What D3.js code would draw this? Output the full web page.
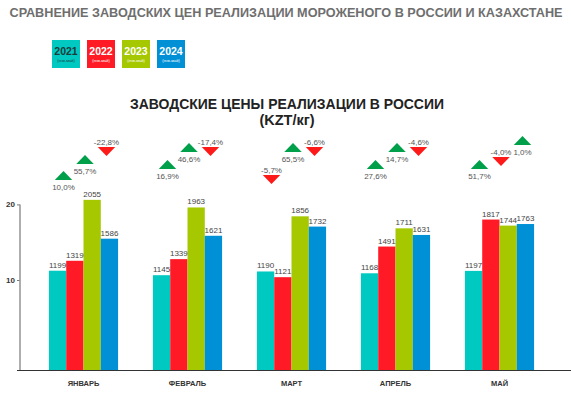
<!DOCTYPE html>
<html><head><meta charset="utf-8">
<script src="https://cdn.jsdelivr.net/npm/d3@7"></script>
<style>
html,body{margin:0;padding:0;background:#fff;}
svg{display:block;font-family:"Liberation Sans",Arial,sans-serif;}
</style></head>
<body><svg id="c" width="571" height="398"></svg>
<script>
const months = ["ЯНВАРЬ","ФЕВРАЛЬ","МАРТ","АПРЕЛЬ","МАЙ"];
const years = ["2021","2022","2023","2024"];
const v2021 = [1199,1145,1190,1168,1197];
const v2022 = [1319,1339,1121,1491,1817];
const v2023 = [2055,1963,1856,1711,1744];
const v2024 = [1586,1621,1732,1631,1763];
const changePct = [[10.0,55.7,-22.8],[16.9,46.6,-17.4],[-5.7,65.5,-6.6],[27.6,14.7,-4.6],[51.7,-4.0,1.0]];
const yTickValues = [1087,2000];
const yTickLabels = ["10","20"];
const legendSub = "(янв-май)";

// layout / style (not data)
const colors = ["#00c9c1","#ff1a26","#a6c800","#0090d6"];
const legendText = ["#1d3b3a","#ffffff","#ffffff","#ffffff"];
const markerOffsets = [-20,1.5,23];
const markerTop = [[171,155,147],[160,143,147],[175,143,147],[160,143,147],[160,157,136]];

const svg = d3.select("#c");
const series = [v2021,v2022,v2023,v2024];
const rows = months.map((m,i)=>({month:m, vals:years.map((y,k)=>({year:y,value:series[k][i]}))}));

const x = d3.scaleBand().domain(months).range([31.5,551.5]).paddingInner(0.335).paddingOuter(0.1675);
const xs = d3.scaleBand().domain(years).range([0,x.bandwidth()]);
const y = d3.scaleLinear().domain([0,2000]).range([370,204.4]);

// titles
svg.append("text").attr("x",286).attr("y",17).attr("text-anchor","middle")
  .attr("font-size",12.5).attr("font-weight","bold").attr("fill","#6e6e6e")
  .attr("textLength",553).attr("lengthAdjust","spacingAndGlyphs")
  .text("СРАВНЕНИЕ ЗАВОДСКИХ ЦЕН РЕАЛИЗАЦИИ МОРОЖЕНОГО В РОССИИ И КАЗАХСТАНЕ");
svg.append("text").attr("x",287).attr("y",109).attr("text-anchor","middle")
  .attr("font-size",14.5).attr("font-weight","bold").attr("fill","#222")
  .attr("textLength",314).attr("lengthAdjust","spacingAndGlyphs")
  .text("ЗАВОДСКИЕ ЦЕНЫ РЕАЛИЗАЦИИ В РОССИИ");
svg.append("text").attr("x",287).attr("y",125).attr("text-anchor","middle")
  .attr("font-size",14.5).attr("font-weight","bold").attr("fill","#222")
  .text("(KZT/кг)");

// legend
const lg = svg.append("g").selectAll("g").data(years).join("g")
  .attr("transform",(d,i)=>`translate(${52+i*35},40)`);
lg.append("rect").attr("width",28).attr("height",28).attr("fill",(d,i)=>colors[i]);
lg.append("text").attr("x",14).attr("y",15).attr("text-anchor","middle")
  .attr("font-size",10.5).attr("font-weight","bold").attr("fill",(d,i)=>legendText[i]).text(d=>d);
lg.append("text").attr("x",14).attr("y",22).attr("text-anchor","middle")
  .attr("font-size",4).attr("fill",(d,i)=>legendText[i]).text(legendSub);

// y axis
const yAxis = d3.axisLeft(y).tickValues(yTickValues).tickSize(3).tickFormat((d,i)=>yTickLabels[i]);
const ya = svg.append("g").attr("transform","translate(20,0)").call(yAxis);
ya.select(".domain").remove();
ya.append("line").attr("x1",0).attr("x2",0).attr("y1",y(2000)).attr("y2",370)
  .attr("stroke","#9a9a9a").attr("stroke-width",1.6);
ya.selectAll(".tick line").attr("stroke","#777");
ya.selectAll(".tick text").attr("font-size",8).attr("font-weight","bold").attr("fill","#333")
  .attr("font-family","Liberation Sans, Arial, sans-serif").attr("x",-5);

// bars
const g = svg.append("g").selectAll("g").data(rows).join("g")
  .attr("transform",d=>`translate(${x(d.month)},0)`);
g.selectAll("rect").data(d=>d.vals).join("rect")
  .attr("x",d=>xs(d.year)).attr("width",xs.bandwidth())
  .attr("y",d=>y(d.value)).attr("height",d=>370-y(d.value))
  .attr("fill",(d,i)=>colors[i]);
g.selectAll("text.v").data(d=>d.vals).join("text").attr("class","v")
  .attr("x",d=>xs(d.year)+xs.bandwidth()/2).attr("y",d=>y(d.value)-3)
  .attr("text-anchor","middle").attr("font-size",8).attr("fill","#444")
  .text(d=>d.value);

// baseline
svg.append("line").attr("x1",17).attr("x2",571).attr("y1",370.5).attr("y2",370.5)
  .attr("stroke","#333").attr("stroke-width",1.2);

// x labels
const xAxis = d3.axisBottom(x).tickSize(0).tickPadding(0);
const xa = svg.append("g").attr("transform","translate(0,381)").call(xAxis);
xa.select(".domain").remove();
xa.selectAll(".tick text").attr("font-size",7.5).attr("font-weight","bold").attr("fill","#333")
  .attr("font-family","Liberation Sans, Arial, sans-serif");

// change markers
const fmt = v => d3.format(".1f")(v).replace(".",",").replace("−","-")+"%";
const markers = [];
months.forEach((m,i)=>changePct[i].forEach((v,k)=>markers.push({m,i,k,v})));
const mg = svg.append("g").selectAll("g").data(markers).join("g")
  .attr("transform",d=>`translate(${x(d.m)+x.bandwidth()/2+markerOffsets[d.k]},${markerTop[d.i][d.k]})`);
const tw = 8.75, th = 9;
mg.append("path").attr("d",d=>d.v>=0
    ? `M${-tw},${th}L${tw},${th}L0,0Z`
    : `M${-tw},0L${tw},0L0,${th}Z`)
  .attr("fill",d=>d.v>=0?"#00a04b":"#ff1a1a");
mg.append("text").attr("text-anchor","middle").attr("font-size",8).attr("fill","#555")
  .attr("y",d=>d.v>=0?19:-2).text(d=>fmt(d.v));
</script></body></html>
